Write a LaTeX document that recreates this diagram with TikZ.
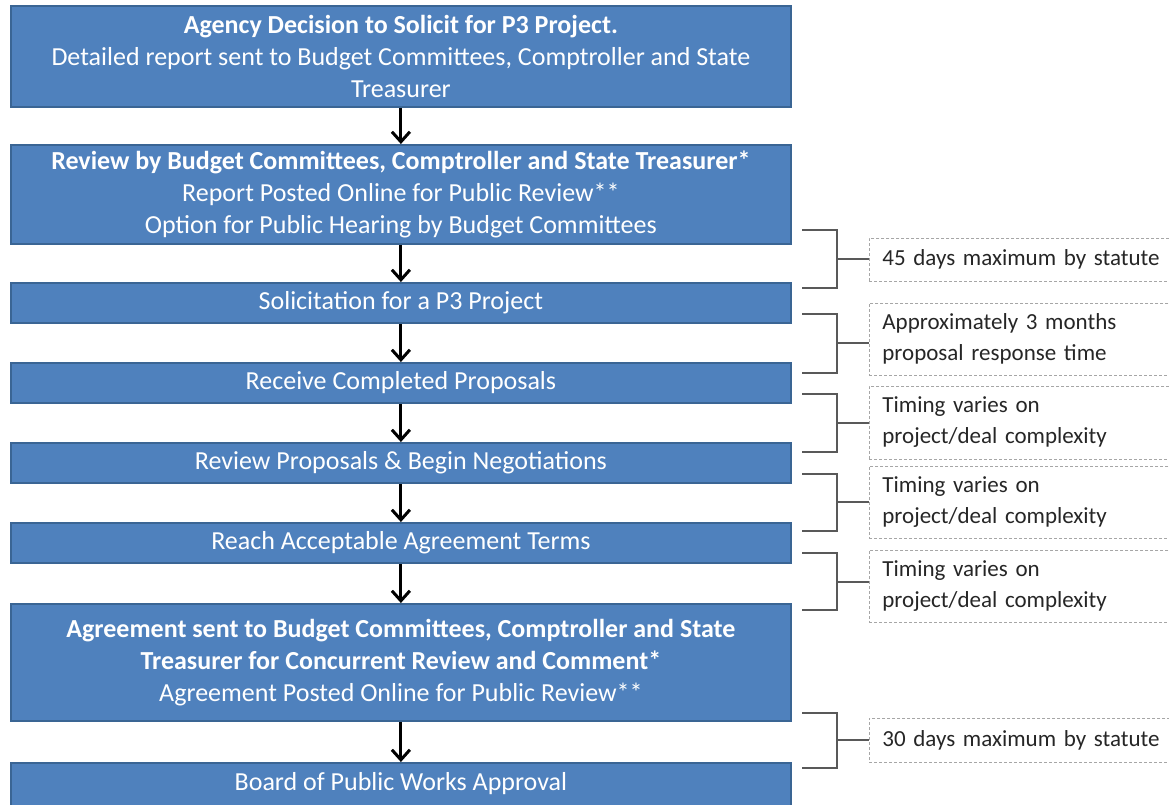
\documentclass[tikz,border=0pt]{standalone}
\usepackage{fontspec}
\setmainfont{Carlito}
\usetikzlibrary{arrows.meta}
\definecolor{boxblue}{HTML}{4F81BD}
\definecolor{boxborder}{HTML}{3A6594}
\definecolor{brkgray}{HTML}{595959}
\definecolor{notegray}{HTML}{A6A6A6}
\definecolor{notetext}{HTML}{262626}
\begin{document}
\begin{tikzpicture}[x=1pt,y=-1pt,
  flow/.style={draw=boxborder, line width=1.8pt, fill=boxblue, text=white,
    minimum width=780pt, align=center, anchor=north west, inner sep=0pt,
    font=\fontsize{26}{32}\selectfont},
  arr/.style={line width=3pt, -{Straight Barb[length=10pt,width=18pt,line width=3pt]}},
  brk/.style={draw=brkgray, line width=1.6pt},
  note/.style={draw=notegray, densely dashed, line width=0.8pt, anchor=west,
    text width=280pt, inner xsep=13pt, inner ysep=0pt, align=left, text=notetext,
    font=\fontsize{23}{31}\selectfont}]
\useasboundingbox (0,0) rectangle (1169,804);
\node[flow, minimum height=101pt] (b1) at (10,5) {\textbf{Agency Decision to Solicit for P3 Project.}\\Detailed report sent to Budget Committees, Comptroller and State\\Treasurer};
\node[flow, minimum height=99pt] (b2) at (10,144) {\textbf{Review by Budget Committees, Comptroller and State Treasurer*}\\Report Posted Online for Public Review**\\Option for Public Hearing by Budget Committees};
\node[flow, minimum height=40pt] (b3) at (10,282) {Solicitation for a P3 Project};
\node[flow, minimum height=40pt] (b4) at (10,362) {Receive Completed Proposals};
\node[flow, minimum height=40pt] (b5) at (10,442) {Review Proposals \& Begin Negotiations};
\node[flow, minimum height=40pt] (b6) at (10,522) {Reach Acceptable Agreement Terms};
\node[flow, minimum height=117pt] (b7) at (10,603) {\textbf{Agreement sent to Budget Committees, Comptroller and State}\\\textbf{Treasurer for Concurrent Review and Comment*}\\Agreement Posted Online for Public Review**};
\node[flow, minimum height=60pt] (b8) at (10,762) {\raisebox{0pt}[0pt][0pt]{\makebox[0pt]{\raisebox{2pt}{Board of Public Works Approval}}}};
\foreach \a/\b in {b1/b2,b2/b3,b3/b4,b4/b5,b5/b6,b6/b7,b7/b8}
  \draw[arr] (\a.south) -- (\b.north);
% notes
\node[note, minimum height=43pt] (n1) at (869,259.5) {45 days maximum by statute};
\node[note, minimum height=72pt] (n2) at (869,339) {Approximately 3 months\\proposal response time};
\node[note, minimum height=73pt] (n3) at (869,422.5) {Timing varies on\\project/deal complexity};
\node[note, minimum height=72pt] (n4) at (869,502) {Timing varies on\\project/deal complexity};
\node[note, minimum height=72pt] (n5) at (869,586) {Timing varies on\\project/deal complexity};
\node[note, minimum height=44pt] (n6) at (869,740) {30 days maximum by statute};
% brackets
\foreach \t/\bt/\m/\n in {230/288/259/n1, 314/373/343/n2, 394/452/423/n3, 474/531/502/n4, 553/610/582/n5, 713/768/740/n6}{
  \draw[brk] (802,\t) -- (837,\t) -- (837,\bt) -- (802,\bt);
  \coordinate (m\n) at (837,\m);
  \draw[brk] (m\n) -- (m\n -| \n.west);
}
\end{tikzpicture}
\end{document}
